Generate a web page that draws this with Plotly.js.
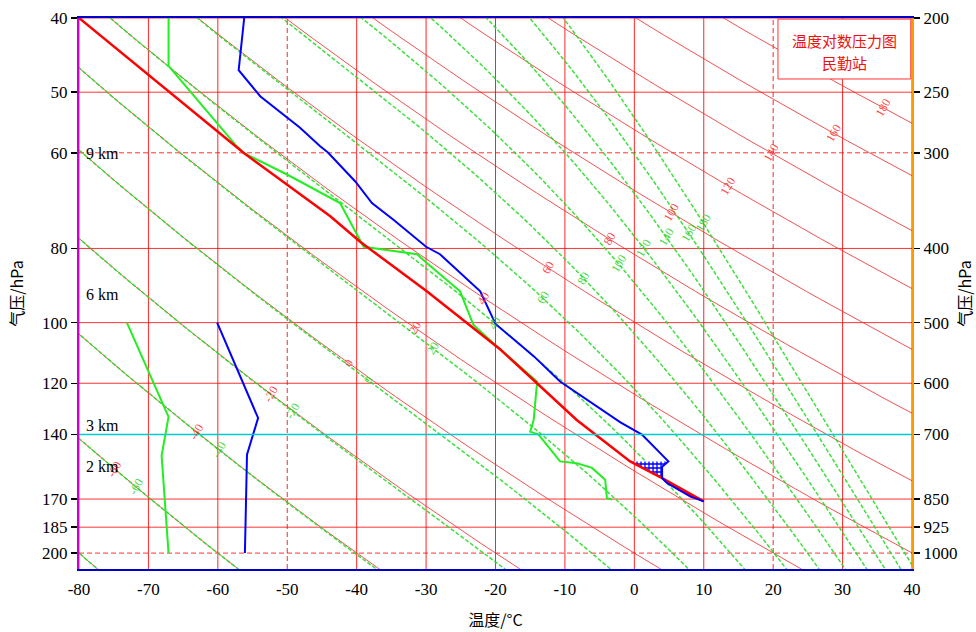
<!DOCTYPE html>
<html><head><meta charset="utf-8">
<script src="https://cdn.plot.ly/plotly-3.0.1.min.js"></script>
<style>html,body{margin:0;padding:0;background:#fff;}#chart{width:976px;height:632px;}</style>
</head><body><div id="chart"></div>
<script>
// ---------------- values ----------------
const pressureLevels = [200, 250, 300, 400, 500, 600, 700, 850, 925, 1000];
const leftTickText   = ['40', '50', '60', '80', '100', '120', '140', '170', '185', '200'];
const rightTickText  = ['200', '250', '300', '400', '500', '600', '700', '850', '925', '1000'];
const isotherms      = [-80, -70, -60, -50, -40, -30, -20, -10, 0, 10, 20, 30, 40];
const dashedIsotherms = [-50, 20];
const dashedIsobars   = [300, 1000];
const greyIsobar      = 700;

const dryAdiabatTheta    = [-80, -60, -40, -20, 0, 20, 40, 60, 80, 100, 120, 140, 160, 180];
const pseudoAdiabatTheta = [-80, -60, -40, -20, 0, 20, 40, 60, 80, 100, 120, 140, 160, 180];
const dryLabelTheta    = [-60, -40, -20, 0, 20, 40, 60, 80, 100, 120, 140, 160, 180];
const dryLabelP        = [776, 694, 620, 565, 508, 464, 424, 389, 359, 331, 300, 283, 262];
const pseudoLabelTheta = [-60, -40, -20, 0, 20, 40, 60, 80, 100, 120, 140, 160, 180];
const pseudoLabelP     = [819, 733, 653, 595, 540, 500, 464, 437, 419, 399, 387, 382, 370];

const tempP = [200, 234, 253, 269, 278, 294, 300, 327, 349, 367, 398, 407, 455, 502, 516, 553, 597, 631, 666, 675, 700, 759, 771, 798, 810, 844, 856];
const tempT = [-56.2, -57.0, -53.9, -50.1, -48.2, -45.3, -44.1, -40.2, -37.8, -34.7, -30.0, -28.0, -22.2, -20.0, -18.4, -14.5, -10.7, -6.8, -3.0, -2.0, 1.1, 4.9, 4.0, 4.0, 4.7, 8.1, 10.0];
const dewP = [200, 231, 294, 300, 320, 327, 349, 398, 407, 418, 455, 503, 537, 597, 670, 694, 700, 759, 763, 774, 802, 848, 851];
const dewT = [-67.1, -67.1, -57.3, -56.3, -50.1, -48.2, -42.4, -39.0, -31.3, -29.9, -25.1, -23.2, -19.8, -14.0, -14.5, -15.0, -13.8, -10.7, -8.3, -6.1, -4.2, -3.95, -3.2];
const parcelP = [200, 300, 363, 392, 455, 542, 670, 700, 759, 798, 856];
const parcelT = [-80, -56.3, -43.8, -39.5, -29.9, -19.3, -8.3, -5.6, -0.6, 4.0, 10.0];
const lowTempP = [500, 666, 744, 1000];
const lowTempT = [-60.1, -54.2, -55.8, -56.1];
const lowDewP  = [500, 579, 664, 746, 1000];
const lowDewT  = [-73.1, -70.0, -67.1, -68.1, -67.1];
const hatchLayer = [759, 798];
const redLayer   = [798, 856];
const kmLabels   = ['9 km', '6 km', '3 km', '2 km'];
const kmPressure = [309, 473, 700, 793];
const boxLines = ['温度对数压力图', '民勤站'];

const P_TOP = 200, P_BOTTOM = 1049;
const KAPPA = 0.286;
const pSamples = [];
for (let i = 0; i <= 80; i++) pSamples.push(180 * Math.pow(1100 / 180, i / 80));

function dryT(thetaC, p) { return (thetaC + 273.15) * Math.pow(p / 1000, KAPPA) - 273.15; }
function thetaSe(Tc, p) {
  const T = Tc + 273.15;
  const es = 6.112 * Math.exp(17.67 * Tc / (Tc + 243.5));
  const rs = 0.622 * es / Math.max(p - es, 1);
  return T * Math.pow(1000 / p, KAPPA) * Math.exp(2.5e6 * rs / (1004 * T));
}
function pseudoT(thetaC, p) {
  const target = thetaC + 273.15;
  let lo = -160, hi = 60;
  for (let i = 0; i < 60; i++) {
    const mid = (lo + hi) / 2;
    if (thetaSe(mid, p) > target) hi = mid; else lo = mid;
  }
  return (lo + hi) / 2;
}

const traces = [];
const skip = {hoverinfo: 'skip', showlegend: false};
const xMin = isotherms[0], xMax = isotherms[isotherms.length - 1];
const shapes = [];
isotherms.forEach(t => shapes.push({
  type: 'line', xref: 'x', x0: t, x1: t, yref: 'paper', y0: 0, y1: 1, layer: 'below',
  line: {color: 'rgba(255,0,0,0.85)', width: 1, dash: dashedIsotherms.includes(t) ? '5px,3px' : 'solid'}
}));
pressureLevels.forEach(p => {
  if (p === greyIsobar) return;
  traces.push(Object.assign({
    type: 'scatter', mode: 'lines', x: [xMin, xMax], y: [p, p],
    line: {color: 'rgba(255,0,0,0.8)', width: 1, dash: dashedIsobars.includes(p) ? '5px,3px' : 'solid'}
  }, skip));
});
dryAdiabatTheta.forEach(th => traces.push(Object.assign({
  type: 'scatter', mode: 'lines', x: pSamples.map(p => dryT(th, p)), y: pSamples,
  line: {color: 'rgba(235,40,40,0.8)', width: 1}
}, skip)));
pseudoAdiabatTheta.forEach(th => traces.push(Object.assign({
  type: 'scatter', mode: 'lines', x: pSamples.map(p => pseudoT(th, p)), y: pSamples,
  line: {color: 'rgba(40,220,40,0.9)', width: 1.5, dash: '4px,2px'}
}, skip)));
traces.push(Object.assign({
  type: 'scatter', mode: 'lines', x: [xMin, xMax], y: [greyIsobar, greyIsobar], yaxis: 'y2',
  line: {color: '#00cccc', width: 1.5}
}, skip));

function layerPolygon(lo, hi) {
  const xs = [], ys = [];
  parcelP.forEach((p, i) => { if (p >= lo && p <= hi) { xs.push(parcelT[i]); ys.push(p); } });
  for (let i = tempP.length - 1; i >= 0; i--) {
    if (tempP[i] >= lo && tempP[i] <= hi) { xs.push(tempT[i]); ys.push(tempP[i]); }
  }
  return {x: xs, y: ys};
}
const hp = layerPolygon(hatchLayer[0], hatchLayer[1]);
traces.push(Object.assign({
  type: 'scatter', mode: 'lines', x: hp.x, y: hp.y, fill: 'toself',
  fillcolor: 'rgba(0,0,255,0.5)',
  fillpattern: {shape: '+', fgcolor: '#0000ff', bgcolor: 'rgba(255,255,255,1)', size: 4, solidity: 0.55},
  line: {color: '#0000ff', width: 1}
}, skip));
const rp = layerPolygon(redLayer[0], redLayer[1]);
traces.push(Object.assign({
  type: 'scatter', mode: 'lines', x: rp.x, y: rp.y, fill: 'toself',
  fillcolor: '#ff0000', line: {color: '#ff0000', width: 1}
}, skip));

traces.push(Object.assign({type: 'scatter', mode: 'lines', x: lowDewT, y: lowDewP, line: {color: '#22ee22', width: 2}}, skip));
traces.push(Object.assign({type: 'scatter', mode: 'lines', x: lowTempT, y: lowTempP, line: {color: '#0000ff', width: 2}}, skip));
traces.push(Object.assign({type: 'scatter', mode: 'lines', x: dewT, y: dewP, line: {color: '#22ee22', width: 2}}, skip));
traces.push(Object.assign({type: 'scatter', mode: 'lines', x: parcelT, y: parcelP, line: {color: '#ff0000', width: 2.5}}, skip));
traces.push(Object.assign({type: 'scatter', mode: 'lines', x: tempT, y: tempP, line: {color: '#0000ff', width: 2}}, skip));

const annotations = [];
dryLabelTheta.forEach((th, i) => annotations.push({
  x: dryT(th, dryLabelP[i]), y: Math.log10(dryLabelP[i]), xref: 'x', yref: 'y',
  text: String(th), showarrow: false, textangle: -60,
  font: {family: 'Liberation Serif', size: 12, color: 'rgba(255,40,40,0.9)'}
}));
pseudoLabelTheta.forEach((th, i) => annotations.push({
  x: pseudoT(th, pseudoLabelP[i]), y: Math.log10(pseudoLabelP[i]), xref: 'x', yref: 'y',
  text: String(th), showarrow: false, textangle: -60,
  font: {family: 'Liberation Serif', size: 12, color: 'rgba(40,210,40,0.9)'}
}));
kmLabels.forEach((t, i) => annotations.push({
  x: 0.006, xref: 'paper', xanchor: 'left', y: Math.log10(kmPressure[i]), yref: 'y', yanchor: 'bottom',
  text: t, showarrow: false, yshift: -1,
  font: {family: 'Liberation Serif', size: 16, color: '#000'}
}));
boxLines.forEach((t, i) => annotations.push({
  x: 0.919, xref: 'paper', y: [0.960, 0.920][i], yref: 'paper', xanchor: 'center', yanchor: 'middle',
  text: t, showarrow: false,
  font: {family: 'Noto Sans CJK SC', size: 15, color: '#ee1111'}
}));

kmPressure.forEach(p => shapes.push({
  type: 'line', xref: 'paper', x0: 0, x1: 0.049, yref: 'y', y0: Math.log10(p), y1: Math.log10(p),
  line: {color: '#000', width: 1.2}
}));
shapes.push({
  type: 'rect', xref: 'paper', yref: 'paper', x0: 0.8391, x1: 0.9985, y0: 0.8893, y1: 0.998,
  fillcolor: '#ffffff', line: {color: '#ff3333', width: 1}, layer: 'above'
});

const tickFont = {family: 'Liberation Serif', size: 17, color: '#000'};
const yRange = [Math.log10(P_BOTTOM), Math.log10(P_TOP)];
const layout = {
  width: 976, height: 632,
  margin: {l: 79, r: 64, t: 18, b: 63},
  paper_bgcolor: '#fff', plot_bgcolor: '#fff',
  showlegend: false, hovermode: false,
  xaxis: {
    range: [xMin, xMax], tickvals: isotherms, ticktext: isotherms.map(String),
    showgrid: false, zeroline: false, showline: true, mirror: true, linecolor: '#0000cc', linewidth: 2,
    ticks: '', tickfont: tickFont, ticklabelstandoff: 4, showspikes: false,
    title: {text: '温度/°C', font: {family: 'Noto Sans CJK SC', size: 16, color: '#000'}, standoff: 16}
  },
  yaxis: {
    type: 'log', range: yRange, tickvals: pressureLevels, ticktext: leftTickText,
    showgrid: false, zeroline: false, showline: true, linecolor: '#cc00cc', linewidth: 2,
    ticks: 'outside', ticklen: 6, tickwidth: 1.5, tickcolor: '#000', tickfont: tickFont,
    title: {text: '气压/hPa', font: {family: 'Noto Sans CJK SC', size: 16, color: '#000'}, standoff: 14}
  },
  yaxis2: {
    type: 'log', range: yRange, overlaying: 'y', side: 'right', tickvals: pressureLevels, ticktext: rightTickText,
    showgrid: false, zeroline: false, showline: true, linecolor: '#ff9900', linewidth: 2,
    ticks: 'outside', ticklen: 6, tickwidth: 1.5, tickcolor: '#000', tickfont: tickFont,
    title: {text: '气压/hPa', font: {family: 'Noto Sans CJK SC', size: 16, color: '#000'}, standoff: 4}
  },
  annotations: annotations,
  shapes: shapes
};
Plotly.newPlot('chart', traces, layout, {staticPlot: true, displayModeBar: false});
</script>
</body></html>
